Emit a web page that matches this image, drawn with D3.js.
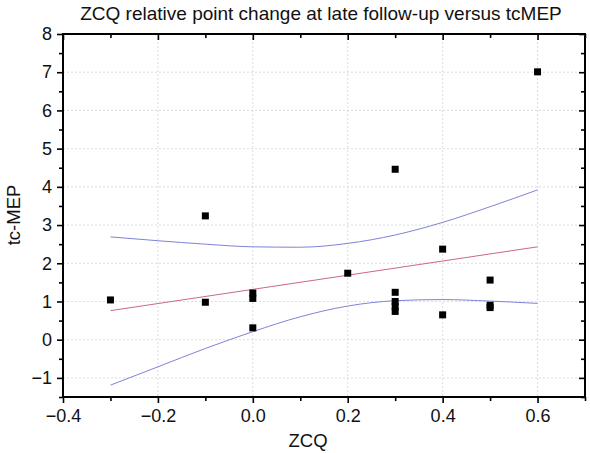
<!DOCTYPE html>
<html><head><meta charset="utf-8">
<script src="https://cdn.jsdelivr.net/npm/d3@7"></script>
<style>body{margin:0;background:#fff}svg{display:block}text{font-family:"Liberation Sans",Arial,sans-serif}</style>
</head><body>
<svg id="c" width="590" height="453"></svg>
<script>
const pointsX = [-0.3,-0.1,-0.1,0.0,0.0,0.0,0.2,0.3,0.3,0.3,0.3,0.3,0.4,0.4,0.5,0.5,0.5,0.6];
const pointsY = [1.04,3.24,0.98,1.22,1.08,0.31,1.74,4.46,1.24,1.0,0.87,0.74,2.37,0.65,1.56,0.9,0.84,7.01];
const fitX = [-0.3,0.6];
const fitY = [0.76,2.43];
const bandX = [-0.3,-0.2,-0.1,0.0,0.1,0.2,0.3,0.4,0.5,0.6];
const upperY = [2.69,2.59,2.50,2.43,2.42,2.52,2.74,3.07,3.48,3.92];
const lowerY = [-1.19,-0.71,-0.23,0.21,0.60,0.88,1.02,1.05,1.01,0.95];
const xTicks = [-0.4,-0.2,0.0,0.2,0.4,0.6];
const xMinor = [-0.3,-0.1,0.1,0.3,0.5,0.7];
const yTicks = [-1,0,1,2,3,4,5,6,7,8];
const yMinor = [-1.5,-0.5,0.5,1.5,2.5,3.5,4.5,5.5,6.5,7.5];

const L=63,R=585,T=34,B=397;
const svg=d3.select("#c");
const x=d3.scaleLinear().domain([-0.4,0.7]).range([L,R]);
const y=d3.scaleLinear().domain([-1.5,8]).range([B,T]);

// grid
const g=svg.append("g");
g.selectAll(".gx").data(xTicks.filter(v=>v>-0.4)).join("line")
 .attr("x1",d=>x(d)).attr("x2",d=>x(d)).attr("y1",T).attr("y2",B)
 .attr("stroke","#cfd3da").attr("stroke-width",0.8).attr("stroke-dasharray","2,2");
g.selectAll(".gy").data(yTicks).join("line")
 .attr("y1",d=>y(d)).attr("y2",d=>y(d)).attr("x1",L).attr("x2",R)
 .attr("stroke","#cfd3da").attr("stroke-width",0.8).attr("stroke-dasharray","2,2");

// bands and fit
const line=d3.line().x(d=>x(d[0])).y(d=>y(d[1])).curve(d3.curveMonotoneX);
svg.append("path").datum(bandX.map((v,i)=>[v,upperY[i]])).attr("d",line)
 .attr("fill","none").attr("stroke","#7f83d6").attr("stroke-width",1);
svg.append("path").datum(bandX.map((v,i)=>[v,lowerY[i]])).attr("d",line)
 .attr("fill","none").attr("stroke","#7f83d6").attr("stroke-width",1);
svg.append("path").datum(fitX.map((v,i)=>[v,fitY[i]])).attr("d",d3.line().x(d=>x(d[0])).y(d=>y(d[1])))
 .attr("fill","none").attr("stroke","#c9678f").attr("stroke-width",1);

// points
const s=7;
svg.selectAll(".pt").data(pointsX.map((v,i)=>[v,pointsY[i]])).join("rect")
 .attr("x",d=>x(d[0])-s/2).attr("y",d=>y(d[1])-s/2).attr("width",s).attr("height",s).attr("fill","#000");

// axes
const fmtX=d=>d3.format(".1f")(d).replace("-","\u2212");
const fmtY=d=>String(d).replace("-","\u2212");
const ax=svg.append("g").attr("transform",`translate(0,${B})`)
 .call(d3.axisBottom(x).tickValues(xTicks).tickFormat(fmtX).tickSize(6).tickPadding(6));
svg.append("g").attr("transform",`translate(0,${B})`)
 .call(d3.axisBottom(x).tickValues(xMinor).tickFormat("").tickSize(4)).select(".domain").remove();
const ay=svg.append("g").attr("transform",`translate(${L},0)`)
 .call(d3.axisLeft(y).tickValues(yTicks).tickFormat(fmtY).tickSize(6).tickPadding(5));
svg.append("g").attr("transform",`translate(${L},0)`)
 .call(d3.axisLeft(y).tickValues(yMinor).tickFormat("").tickSize(4)).select(".domain").remove();
const at=svg.append("g").attr("transform",`translate(0,${T})`)
 .call(d3.axisBottom(x).tickValues(xTicks).tickFormat("").tickSize(6));
svg.append("g").attr("transform",`translate(0,${T})`)
 .call(d3.axisBottom(x).tickValues(xMinor).tickFormat("").tickSize(4)).select(".domain").remove();
const ar=svg.append("g").attr("transform",`translate(${R},0)`)
 .call(d3.axisLeft(y).tickValues(yTicks).tickFormat("").tickSize(6));
svg.append("g").attr("transform",`translate(${R},0)`)
 .call(d3.axisLeft(y).tickValues(yMinor).tickFormat("").tickSize(4)).select(".domain").remove();
[ax,ay,at,ar].forEach(a=>{a.select(".domain").attr("stroke","#000").attr("stroke-width",2).attr("d",null);});
svg.selectAll(".tick line").attr("stroke","#000").attr("stroke-width",1.6);
svg.selectAll(".tick text").attr("font-size",18).attr("fill","#111").style("font-family","'Liberation Sans',Arial,sans-serif");
// frame
svg.append("rect").attr("x",L).attr("y",T).attr("width",R-L).attr("height",B-T)
 .attr("fill","none").attr("stroke","#000").attr("stroke-width",2);

// titles
svg.append("text").attr("x",321).attr("y",20).attr("text-anchor","middle").attr("font-size",19).attr("fill","#111")
 .text("ZCQ relative point change at late follow-up versus tcMEP");
svg.append("text").attr("x",308).attr("y",447).attr("text-anchor","middle").attr("font-size",18.5).attr("fill","#111").text("ZCQ");
svg.append("text").attr("transform","translate(20,215) rotate(-90)").attr("text-anchor","middle").attr("font-size",18.5).attr("fill","#111").text("tc-MEP");
</script>
</body></html>
